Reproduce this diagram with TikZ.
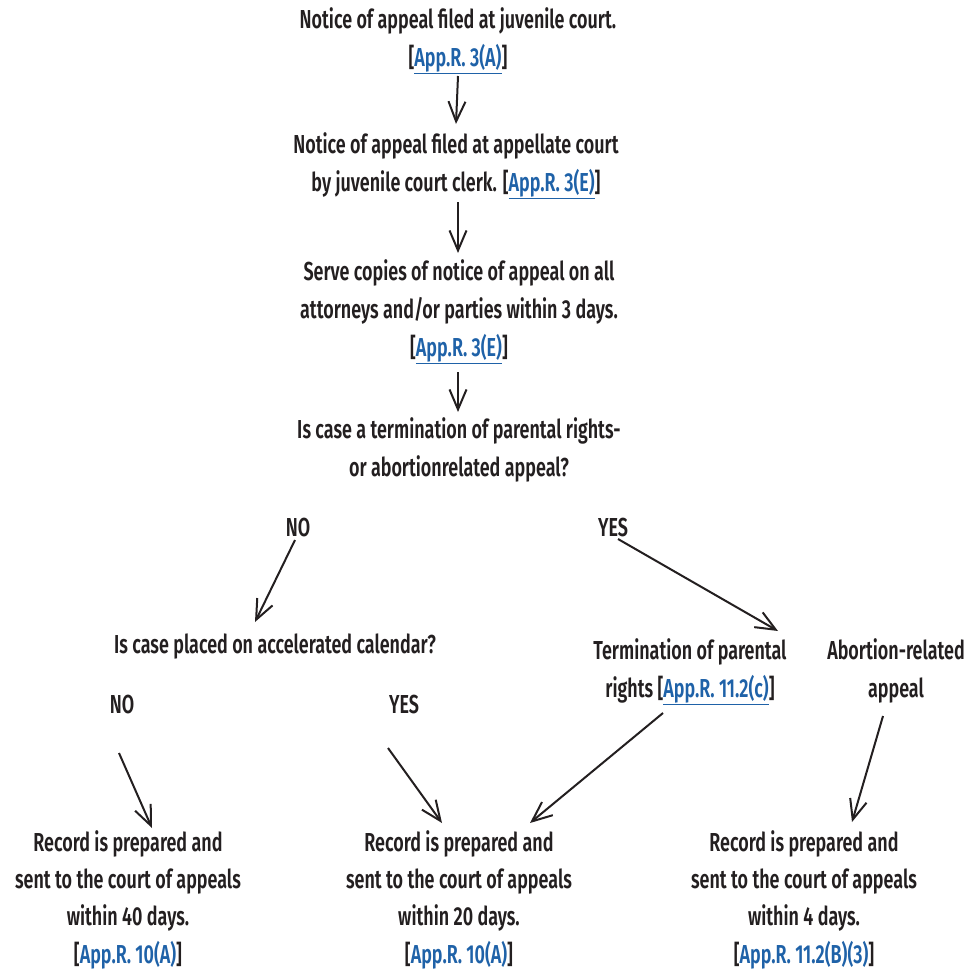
\documentclass[tikz,border=0pt]{standalone}
\usepackage{fontspec}
\setmainfont{Fira Sans}[UprightFont={* SemiBold},FakeStretch=0.69]
\usetikzlibrary{arrows.meta,calc}
\definecolor{ink}{HTML}{231F20}
\definecolor{linkblue}{HTML}{1F62A8}
\newcommand{\lnk}[1]{{\color{linkblue}\underline{#1}}}
\begin{document}
\begin{tikzpicture}[x=1pt,y=-1pt,
  txt/.style={inner sep=0pt, anchor=base, align=center, text=ink, font=\fontsize{26}{38}\selectfont},
  bot/.style={txt, font=\fontsize{26}{37.3}\selectfont},
  arr/.style={draw=ink, line width=2pt, -{Straight Barb[length=20pt,width=17pt,line width=2pt]}}]
\useasboundingbox (0,0) rectangle (973,969);
\node[txt] (n1) at (458,66) {Notice of appeal filed at juvenile court.\\{[}\lnk{App.R. 3(A)}{]}};
\node[txt] (n2) at (456,191) {Notice of appeal filed at appellate court\\by juvenile court clerk. {[}\lnk{App.R. 3(E)}{]}};
\node[txt] (n3) at (459,356) {Serve copies of notice of appeal on all\\attorneys and/or parties within 3 days.\\{[}\lnk{App.R. 3(E)}{]}};
\node[txt] (n4) at (459,476) {Is case a termination of parental rights-\\or abortionrelated appeal?};
\node[txt] (no1) at (298,536) {NO};
\node[txt] (yes1) at (613,536) {YES};
\node[txt] (cal) at (275,653) {Is case placed on accelerated calendar?};
\node[txt] (term) at (690,697) {Termination of parental\\rights {[}\lnk{App.R. 11.2(c)}{]}};
\node[txt] (abort) at (896,697) {Abortion-related\\appeal};
\node[txt] (no2) at (122,713) {NO};
\node[txt] (yes2) at (404,713) {YES};
\node[bot] (bl) at (128,963) {Record is prepared and\\sent to the court of appeals\\within 40 days.\\{[}\lnk{App.R. 10(A)}{]}};
\node[bot] (bm) at (459,963) {Record is prepared and\\sent to the court of appeals\\within 20 days.\\{[}\lnk{App.R. 10(A)}{]}};
\node[bot] (br) at (804,963) {Record is prepared and\\sent to the court of appeals\\within 4 days.\\{[}\lnk{App.R. 11.2(B)(3)}{]}};
\draw[arr] ([shift={(0,10)}]n1.base) -- ([shift={(0,-67)}]n2.base);
\draw[arr] ([shift={(2,11)}]n2.base) -- ([shift={(-1,-103)}]n3.base);
\draw[arr] ([shift={(-1,16)}]n3.base) -- ([shift={(-1,-64)}]n4.base);
\draw[arr] ([shift={(-3,4)}]no1.base) -- ([shift={(-20,-31)}]cal.base);
\draw[arr] ([shift={(5,3)}]yes1.base) -- ([shift={(88,-66)}]term.base);
\draw[arr] ([shift={(-3,40)}]no2.base) -- ([shift={(24,-135)}]bl.base);
\draw[arr] ([shift={(-16,35)}]yes2.base) -- ([shift={(-17,-140)}]bm.base);
\draw[arr] ([shift={(-27,16)}]term.base) -- ([shift={(71,-140)}]bm.base);
\draw[arr] ([shift={(-13,19)}]abort.base) -- ([shift={(48,-141)}]br.base);
\end{tikzpicture}
\end{document}
